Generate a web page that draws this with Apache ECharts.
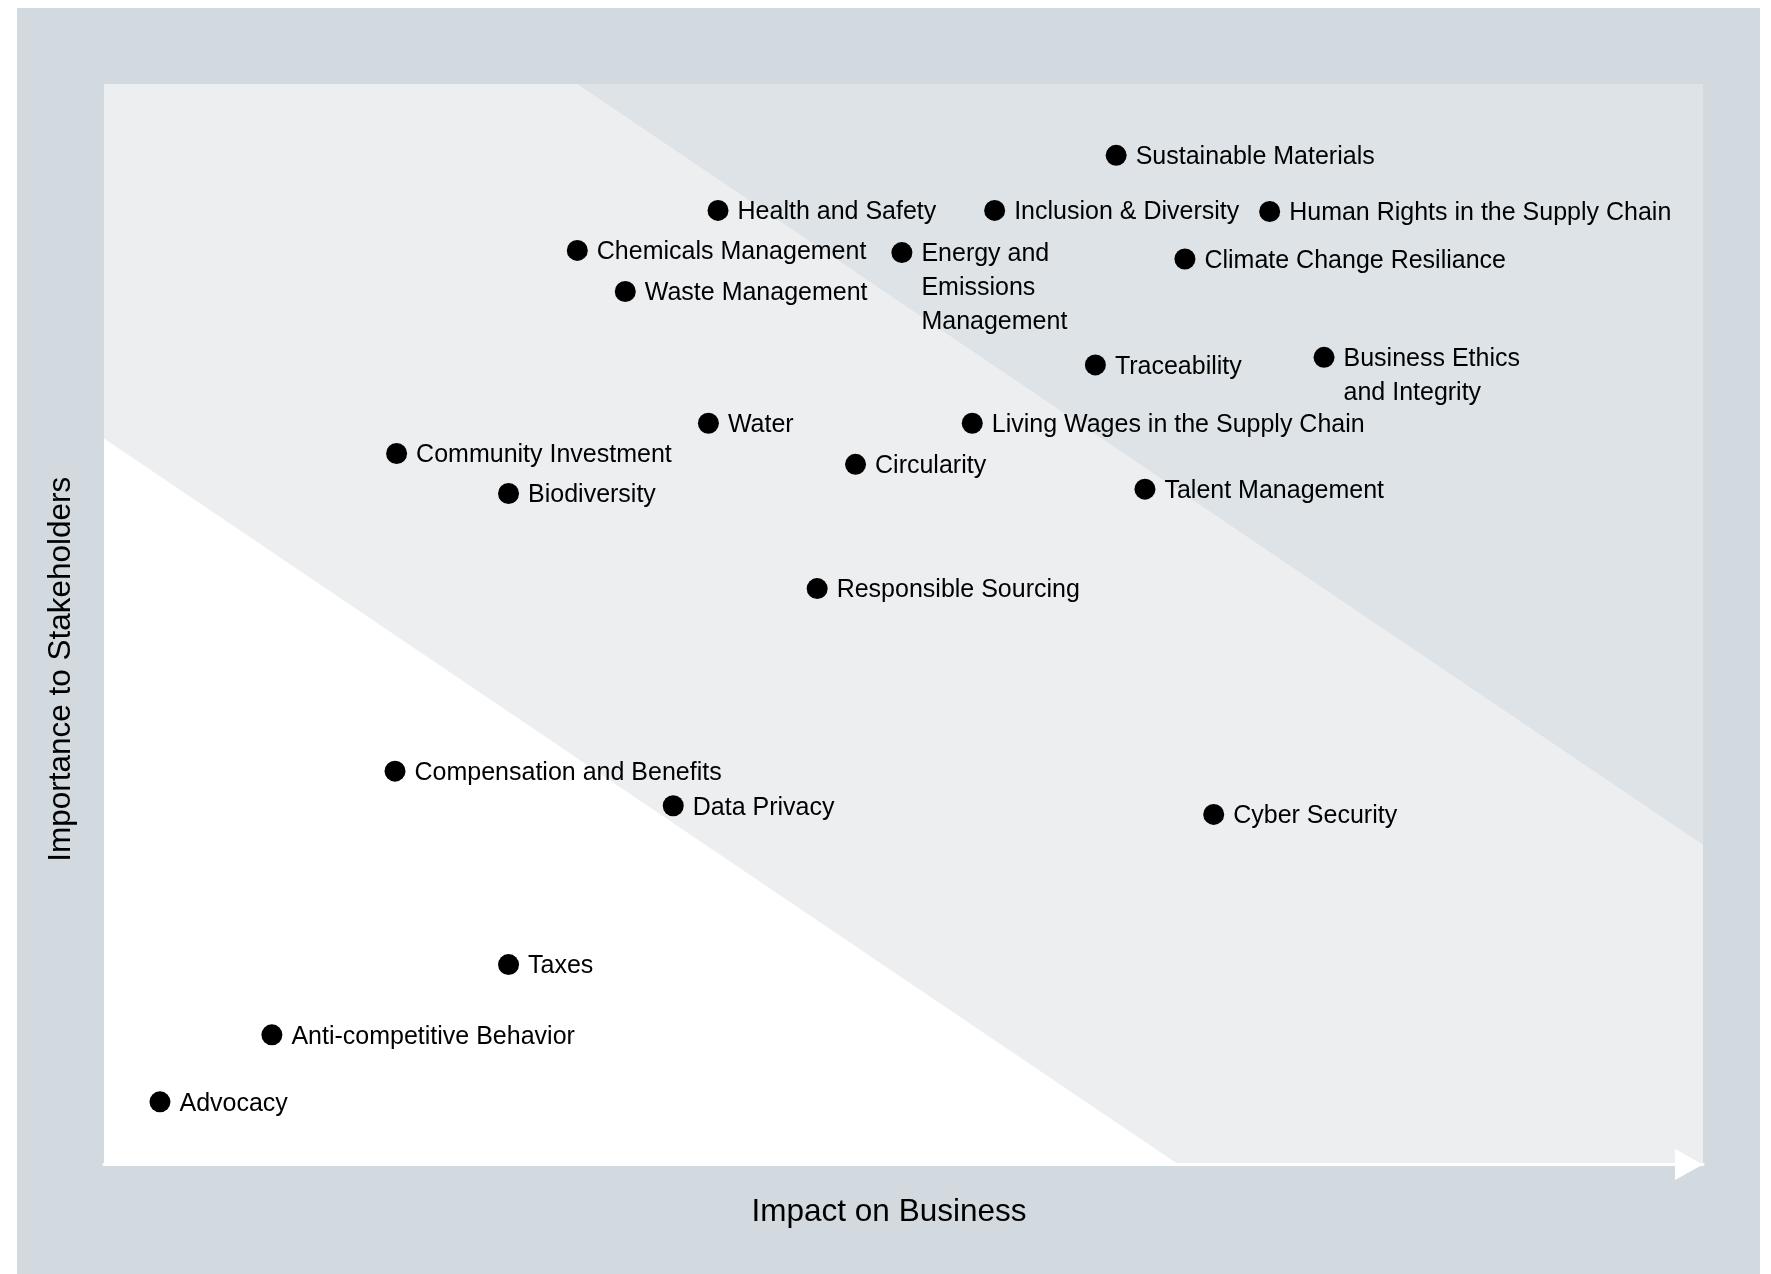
<!DOCTYPE html>
<html>
<head>
<meta charset="utf-8">
<title>Materiality matrix</title>
<script src="https://cdn.jsdelivr.net/npm/echarts@6/dist/echarts.min.js"></script>
<style>
  html, body { margin: 0; padding: 0; background: #ffffff; }
  #frame {
    position: absolute;
    left: 17px; top: 8px;
    width: 1743px; height: 1266px;
    background: #d2dae0;
  }
  #chart {
    position: absolute;
    left: 0; top: 0;
    width: 1771px; height: 1274px;
  }
</style>
</head>
<body>
<div id="frame"></div>
<div id="chart"></div>
<script>
// topics and their scores (impact on business, importance to stakeholders)
const topics = [
  'Sustainable Materials', 'Health and Safety', 'Inclusion & Diversity',
  'Human Rights in the Supply Chain', 'Chemicals Management',
  'Energy and\nEmissions\nManagement', 'Climate Change Resiliance',
  'Waste Management', 'Traceability', 'Business Ethics\nand Integrity',
  'Water', 'Living Wages in the Supply Chain', 'Community Investment',
  'Circularity', 'Biodiversity', 'Talent Management', 'Responsible Sourcing',
  'Compensation and Benefits', 'Data Privacy', 'Cyber Security', 'Taxes',
  'Anti-competitive Behavior', 'Advocacy'
];
const impact = [
  6.33, 3.84, 5.57, 7.29, 2.96, 4.99, 6.76, 3.26, 6.20, 7.63,
  3.78, 5.43, 1.83, 4.70, 2.53, 6.51, 4.46, 1.82, 3.56, 6.94,
  2.53, 1.05, 0.35
];
const importance = [
  9.34, 8.83, 8.83, 8.82, 8.46, 8.44, 8.38, 8.08, 7.40, 7.47,
  6.86, 6.86, 6.58, 6.48, 6.21, 6.25, 5.33, 3.64, 3.32, 3.24,
  1.85, 1.20, 0.58
];

// priority bands drawn on the 0-10 scales
const highBand = [[2.96, 10], [10, 10], [10, 2.96]];
const lowBand = [[0, 6.72], [0, 0], [6.72, 0]];
const bandColors = ['#dee3e7', '#ffffff'];

const chart = echarts.init(document.getElementById('chart'));

let points = topics.map((name, i) => ({ name: name, value: [impact[i], importance[i]] }));

let option = {
  backgroundColor: 'transparent',
  animation: false,
  grid: {
    left: 104,
    right: 68,
    top: 84,
    bottom: 109.5,
    show: true,
    backgroundColor: '#eceef0',
    borderWidth: 0
  },
  xAxis: {
    type: 'value',
    min: 0,
    max: 10,
    z: 10,
    name: 'Impact on Business',
    nameLocation: 'middle',
    nameGap: 32,
    nameTextStyle: {
      fontFamily: 'Liberation Sans',
      fontSize: 31.5,
      color: '#000000',
      padding: [0, 29, 0, 0]
    },
    axisLine: {
      show: true,
      symbol: ['none', 'triangle'],
      symbolSize: [31, 28],
      symbolOffset: [0, -14],
      lineStyle: { color: '#ffffff', width: 3 }
    },
    axisTick: { show: false },
    axisLabel: { show: false },
    splitLine: { show: false }
  },
  yAxis: {
    type: 'value',
    min: 0,
    max: 10,
    name: 'Importance to Stakeholders',
    nameLocation: 'middle',
    nameGap: 27,
    nameTextStyle: {
      fontFamily: 'Liberation Sans',
      fontSize: 31.5,
      color: '#000000',
      padding: [0, 90, 0, 0]
    },
    axisLine: { show: false },
    axisTick: { show: false },
    axisLabel: { show: false },
    splitLine: { show: false }
  },
  series: [
    {
      type: 'custom',
      z: 1,
      silent: true,
      clip: true,
      data: [0, 1],
      renderItem: function (params, api) {
        let band = params.dataIndex === 0 ? highBand : lowBand;
        return {
          type: 'polygon',
          shape: { points: band.map(p => api.coord(p)) },
          style: { fill: bandColors[params.dataIndex] }
        };
      }
    },
    {
      type: 'scatter',
      z: 5,
      symbol: 'circle',
      symbolSize: 21,
      itemStyle: { color: '#000000', opacity: 1 },
      label: {
        show: true,
        position: 'right',
        distance: 9,
        formatter: '{b}',
        fontFamily: 'Liberation Sans',
        fontSize: 25,
        lineHeight: 34,
        verticalAlign: 'top',
        offset: [0, -15],
        color: '#000000'
      },
      data: points
    }
  ]
};

chart.setOption(option);
</script>
</body>
</html>
